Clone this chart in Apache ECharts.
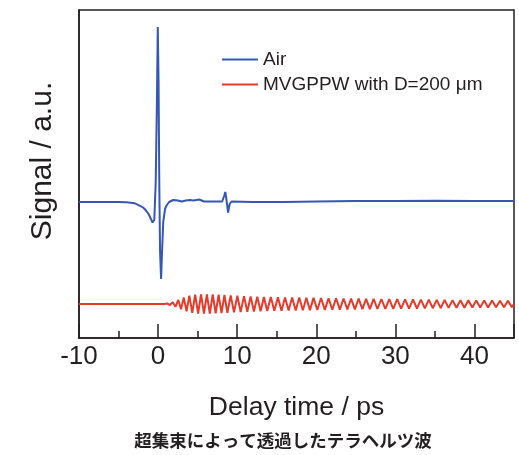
<!DOCTYPE html>
<html>
<head>
<meta charset="utf-8">
<script src="https://cdn.jsdelivr.net/npm/echarts@6/dist/echarts.min.js"></script>
<style>
  html, body { margin: 0; padding: 0; background: #fff; }
  #chart { width: 519px; height: 455px; }
</style>
</head>
<body>
<div id="chart"></div>
<script>
// Terahertz waveforms: [delay time (ps), signal (a.u.)]
const seriesNames = ['Air', 'MVGPPW with D=200 μm'];
const xTicks = [-10, 0, 10, 20, 30, 40];

const airTrace = [
  [-10, 0], [-5, 0], [-4, -0.03], [-3, -0.12], [-2.4, -0.33], [-1.9, -0.55],
  [-1.55, -0.83], [-1.2, -1.2], [-0.92, -1.67], [-0.7, -2.05], [-0.6, -2.2],
  [-0.48, -1.8], [-0.3, 2], [-0.15, 10], [-0.04, 17.5], [0.06, 12], [0.15, 2],
  [0.25, -5], [0.38, -7.7], [0.5, -5], [0.65, -2], [0.88, -0.7], [1.1, -0.3],
  [1.4, 0], [1.9, 0.2], [2.5, 0.15], [3.0, 0.05], [3.5, 0.15], [4.0, 0.2],
  [4.5, 0.15], [5.2, 0.25], [5.8, 0.05], [6.5, 0.05], [7.5, 0.05], [8.1, 0.05],
  [8.35, 0.6], [8.5, 1.0], [8.65, 0.2], [8.85, -1.05], [9.05, -0.2], [9.3, 0.05],
  [12, 0], [16, 0], [20, 0.05], [25, 0.1], [30, 0.1], [35, 0.12], [40, 0.1], [45, 0.1]
];

const waveguideTrace = [
  [-10, 0], [0.5, 0], [0.8, 0],
  [1.15, 0.05], [1.5, -0.1], [1.85, 0.18], [2.2, -0.28], [2.55, 0.4], [2.9, -0.52],
  [3.25, 0.64], [3.6, -0.74], [3.95, 0.83],
  [4.32, -0.88], [4.69, 0.93], [5.06, -0.95], [5.43, 0.96], [5.8, -0.96], [6.17, 0.96],
  [6.54, -0.96], [6.91, 0.95], [7.28, -0.94], [7.65, 0.93], [8.02, -0.92], [8.39, 0.9],
  [8.76, -0.88],
  [9.18, 0.86], [9.6, -0.84], [10.02, 0.83], [10.44, -0.81], [10.86, 0.79], [11.28, -0.78],
  [11.7, 0.76], [12.12, -0.75], [12.54, 0.74], [12.96, -0.72], [13.38, 0.71], [13.8, -0.7],
  [14.25, 0.69], [14.7, -0.68], [15.15, 0.68], [15.6, -0.67], [16.05, 0.66], [16.5, -0.66],
  [16.95, 0.65], [17.4, -0.64], [17.85, 0.64], [18.3, -0.63], [18.75, 0.62], [19.2, -0.62],
  [19.65, 0.61],
  [20.13, -0.6], [20.6, 0.6], [21.08, -0.59], [21.55, 0.58], [22.03, -0.57], [22.5, 0.57],
  [22.98, -0.56], [23.45, 0.55], [23.93, -0.54], [24.4, 0.54], [24.88, -0.53], [25.35, 0.53],
  [25.83, -0.52], [26.3, 0.52], [26.78, -0.51], [27.25, 0.51], [27.73, -0.5],
  [28.23, 0.5], [28.73, -0.49], [29.23, 0.49], [29.73, -0.48], [30.23, 0.48], [30.73, -0.47],
  [31.23, 0.47], [31.73, -0.46], [32.23, 0.45], [32.73, -0.45], [33.23, 0.44], [33.73, -0.43],
  [34.23, 0.43], [34.73, -0.42], [35.23, 0.41], [35.73, -0.41], [36.23, 0.4], [36.73, -0.39],
  [37.23, 0.39], [37.73, -0.38], [38.23, 0.38], [38.73, -0.37], [39.23, 0.37], [39.73, -0.36],
  [40.23, 0.36], [40.73, -0.35], [41.23, 0.35], [41.73, -0.34], [42.23, 0.34], [42.73, -0.33],
  [43.23, 0.33], [43.73, -0.32], [44.23, 0.31], [44.73, -0.31], [45, 0]
];

// vertical offset that stacks the air trace above the waveguide trace
const AIR_OFFSET = 10.2;
const INK = '#231f20';
const FONT = 'Liberation Sans, Arial, sans-serif';

const chart = echarts.init(document.getElementById('chart'), null, { renderer: 'canvas' });

chart.setOption({
  animation: false,
  backgroundColor: '#fff',
  grid: {
    left: 79, right: 5, top: 10, bottom: 117,
    show: true, borderColor: INK, borderWidth: 1.5, backgroundColor: 'transparent'
  },
  legend: {
    data: seriesNames,
    orient: 'vertical',
    left: 217, top: 45,
    icon: 'rect',
    itemWidth: 36, itemHeight: 2,
    itemGap: 6,
    textStyle: { fontFamily: FONT, fontSize: 19, color: INK }
  },
  xAxis: {
    type: 'value',
    min: xTicks[0], max: 45, interval: 10,
    name: 'Delay time / ps',
    nameLocation: 'middle',
    nameGap: 56,
    nameTextStyle: { fontFamily: FONT, fontSize: 26.5, color: INK },
    axisLine: { onZero: false, lineStyle: { color: INK, width: 1.5 } },
    axisTick: { inside: true, length: 14, lineStyle: { color: INK, width: 1.5 } },
    minorTick: { show: true, splitNumber: 2, length: 7, lineStyle: { color: INK, width: 1.5 } },
    axisLabel: {
      fontFamily: FONT, fontSize: 26, color: INK, margin: 6,
      showMaxLabel: false,
      formatter: v => (xTicks.indexOf(v) >= 0 ? String(v) : '')
    },
    splitLine: { show: false }
  },
  yAxis: {
    type: 'value',
    min: -3.4, max: 29.4,
    axisLine: { show: true, onZero: false, lineStyle: { color: INK, width: 1.5 } },
    axisTick: { show: false },
    axisLabel: { show: false },
    splitLine: { show: false }
  },
  series: [
    {
      name: seriesNames[0],
      type: 'line',
      data: airTrace.map(p => [p[0], p[1] + AIR_OFFSET]),
      showSymbol: false, symbol: 'none',
      lineStyle: { color: '#3558b5', width: 2 },
      itemStyle: { color: '#3558b5' },
      z: 3
    },
    {
      name: seriesNames[1],
      type: 'line',
      data: waveguideTrace,
      showSymbol: false, symbol: 'none',
      lineStyle: { color: '#e63a2a', width: 2 },
      itemStyle: { color: '#e63a2a' },
      z: 2
    }
  ],
  graphic: [
    {
      type: 'text',
      rotation: Math.PI / 2,
      x: 43, y: 161,
      style: {
        text: 'Signal / a.u.',
        font: '30px ' + FONT,
        fill: INK,
        align: 'center',
        verticalAlign: 'middle'
      }
    },
    {
      type: 'text',
      x: 283, y: 440,
      style: {
        text: '超集束によって透過したテラヘルツ波',
        font: 'bold 17.5px "Noto Sans CJK JP", sans-serif',
        fill: INK,
        align: 'center',
        verticalAlign: 'middle'
      }
    }
  ]
});
</script>
</body>
</html>
